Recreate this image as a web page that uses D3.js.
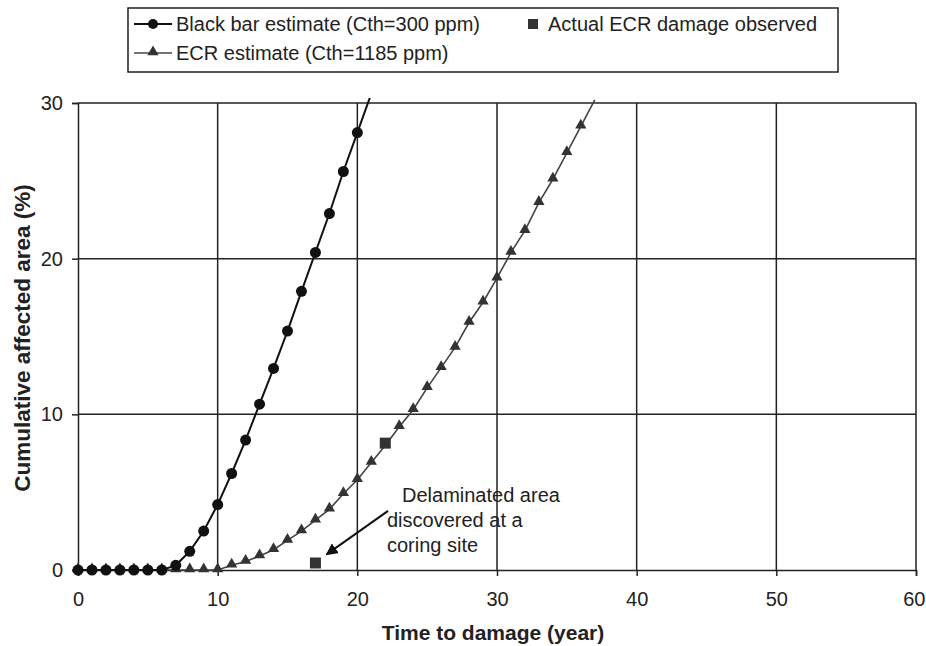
<!DOCTYPE html>
<html><head><meta charset="utf-8">
<script src="https://cdn.jsdelivr.net/npm/d3@7"></script>
<style>html,body{margin:0;padding:0;background:#fff;} svg{display:block;}</style>
</head><body>
<svg id="chart" width="926" height="646"></svg>
<script>
// ---- data ----
const blackYears = [0,1,2,3,4,5,6,7,8,9,10,11,12,13,14,15,16,17,18,19,20,21];
const blackValues = [0,0,0,0,0,0,0,0.3,1.2,2.5,4.2,6.2,8.35,10.65,12.95,15.35,17.9,20.4,22.9,25.6,28.1,30.6];
const ecrYears = [0,1,2,3,4,5,6,7,8,9,10,11,12,13,14,15,16,17,18,19,20,21,22,23,24,25,26,27,28,29,30,31,32,33,34,35,36,37];
const ecrValues = [0,0,0,0,0,0,0,0,0,0,0,0.3,0.55,0.9,1.3,1.9,2.5,3.2,3.9,4.9,5.8,6.9,8.0,9.2,10.3,11.7,13.0,14.3,15.9,17.2,18.75,20.4,21.8,23.6,25.1,26.8,28.5,30.2];
const actualYears = [17,22];
const actualValues = [0.45,8.15];
const xTicks = [0,10,20,30,40,50,60];
const yTicks = [0,10,20,30];
const legendLabels = ["Black bar estimate (Cth=300 ppm)","Actual ECR damage observed","ECR estimate (Cth=1185 ppm)"];
const xTitle = "Time to damage (year)";
const yTitle = "Cumulative affected area (%)";
const noteLines = ["Delaminated area","discovered at a","coring site"];
const noteAnchor = [17.8, 1.0];
const noteFrom = [22.2, 3.8];

const svg = d3.select("#chart");
const font = "Liberation Sans, Arial, sans-serif";
const x = d3.scaleLinear().domain([0,60]).range([78,916]);
const y = d3.scaleLinear().domain([0,30]).range([570,103]);

// grid
const g = svg.append("g");
g.selectAll(".vg").data(xTicks.slice(1)).enter().append("line")
  .attr("x1",d=>x(d)).attr("x2",d=>x(d)).attr("y1",y(0)).attr("y2",y(30))
  .attr("stroke","#222").attr("stroke-width",1.5);
g.selectAll(".hg").data(yTicks.slice(1)).enter().append("line")
  .attr("x1",x(0)).attr("x2",x(60)).attr("y1",d=>y(d)).attr("y2",d=>y(d))
  .attr("stroke","#222").attr("stroke-width",1.5);

// axes
const xAxis = svg.append("g").attr("transform",`translate(0,${y(0)})`)
  .call(d3.axisBottom(x).tickValues(xTicks).tickSize(6).tickPadding(16).tickFormat(d3.format("d")));
const yAxis = svg.append("g").attr("transform",`translate(${x(0)},0)`)
  .call(d3.axisLeft(y).tickValues(yTicks).tickSize(6).tickPadding(9).tickFormat(d3.format("d")));
[xAxis,yAxis].forEach(a=>{
  a.select(".domain").attr("stroke","#222").attr("stroke-width",1.5);
  a.selectAll(".tick line").attr("stroke","#222").attr("stroke-width",1.5);
  a.selectAll("text").attr("font-family",font).attr("font-size",20).attr("fill","#222");
});
// keep the last x label inside the picture
xAxis.selectAll(".tick").filter(d=>d===60).select("text")
  .attr("text-anchor","end").attr("x",9);

// clip
svg.append("defs").append("clipPath").attr("id","clip").append("rect")
  .attr("x",x(0)).attr("y",y(30)-5).attr("width",x(60)-x(0)).attr("height",y(0)-y(30)+10);

const blackData = blackYears.map((d,i)=>[d,blackValues[i]]);
const ecrData = ecrYears.map((d,i)=>[d,ecrValues[i]]);
const line = d3.line().x(d=>x(d[0])).y(d=>y(d[1]));

svg.append("path").datum(ecrData).attr("d",line).attr("clip-path","url(#clip)")
  .attr("fill","none").attr("stroke","#444").attr("stroke-width",1.6);
svg.append("path").datum(blackData).attr("d",line).attr("clip-path","url(#clip)")
  .attr("fill","none").attr("stroke","#111").attr("stroke-width",2);

const tri = d3.symbol().type(d3.symbolTriangle).size(55);
svg.selectAll(".tri").data(ecrData.filter(d=>d[1]<=30)).enter().append("path")
  .attr("d",tri).attr("transform",d=>`translate(${x(d[0])},${y(d[1])-1})`).attr("fill","#333");
svg.selectAll(".dot").data(blackData.filter(d=>d[1]<=30)).enter().append("circle")
  .attr("cx",d=>x(d[0])).attr("cy",d=>y(d[1])).attr("r",5.5).attr("fill","#111");
svg.selectAll(".sq").data(actualYears.map((d,i)=>[d,actualValues[i]])).enter().append("rect")
  .attr("x",d=>x(d[0])-5.5).attr("y",d=>y(d[1])-5.5).attr("width",11).attr("height",11).attr("fill","#333");

// axis titles
svg.append("text").attr("x",493).attr("y",640).attr("text-anchor","middle")
  .attr("font-family",font).attr("font-weight","bold").attr("font-size",21).attr("fill","#222").text(xTitle);
svg.append("text").attr("transform",`translate(30,338) rotate(-90)`).attr("text-anchor","middle")
  .attr("font-family",font).attr("font-weight","bold").attr("font-size",22.5).attr("fill","#222").text(yTitle);

// annotation
const note = svg.append("text").attr("font-family",font).attr("font-size",20).attr("fill","#222");
noteLines.forEach((t,i)=>{
  note.append("tspan").attr("x", i===0 ? 402 : 387).attr("y",502+i*25).text(t);
});
svg.append("defs").append("marker").attr("id","arrow").attr("viewBox","0 0 10 10")
  .attr("refX",9).attr("refY",5).attr("markerWidth",6).attr("markerHeight",6).attr("orient","auto")
  .append("path").attr("d","M0,0 L10,5 L0,10 z").attr("fill","#111");
svg.append("line").attr("x1",x(noteFrom[0])).attr("y1",y(noteFrom[1]))
  .attr("x2",x(noteAnchor[0])).attr("y2",y(noteAnchor[1]))
  .attr("stroke","#111").attr("stroke-width",2).attr("marker-end","url(#arrow)");

// legend
const lg = svg.append("g");
lg.append("rect").attr("x",128).attr("y",8).attr("width",710).attr("height",64)
  .attr("fill","#fff").attr("stroke","#222").attr("stroke-width",1.5);
lg.append("line").attr("x1",134).attr("x2",172).attr("y1",24).attr("y2",24).attr("stroke","#111").attr("stroke-width",2);
lg.append("circle").attr("cx",153).attr("cy",24).attr("r",5).attr("fill","#111");
lg.append("line").attr("x1",134).attr("x2",172).attr("y1",53).attr("y2",53).attr("stroke","#444").attr("stroke-width",1.6);
lg.append("path").attr("d",tri).attr("transform","translate(153,52)").attr("fill","#333");
lg.append("rect").attr("x",528).attr("y",19).attr("width",10).attr("height",10).attr("fill","#333");
const lt = [[176,31,legendLabels[0]],[548,31,legendLabels[1]],[176,60,legendLabels[2]]];
lt.forEach(d=>lg.append("text").attr("x",d[0]).attr("y",d[1]).attr("font-family",font)
  .attr("font-size",20).attr("fill","#222").text(d[2]));
</script>
</body></html>
